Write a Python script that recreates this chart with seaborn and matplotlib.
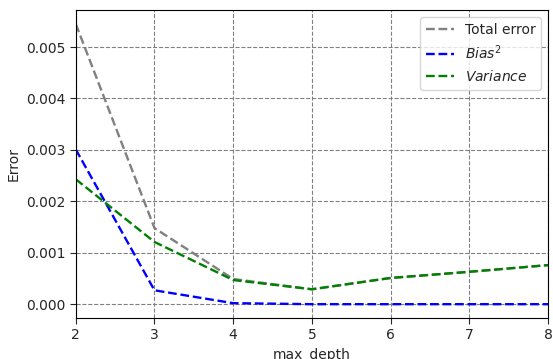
import pandas as pd
import matplotlib
matplotlib.use("Agg")
import matplotlib.pyplot as plt
import seaborn as sns

max_depth = [2, 3, 4, 5, 6, 7, 8]
total_error = [0.00545, 0.00148, 0.00049, 0.00029, 0.00051, 0.00063, 0.00076]
bias_sq = [0.00301, 0.00027, 0.00002, 0.00000, 0.00000, 0.00000, 0.00000]
variance = [0.00243, 0.00121, 0.00047, 0.00029, 0.00051, 0.00063, 0.00076]

series_labels = ["Total error", "$Bias^2$", "$Variance$"]
series_colors = ["gray", "blue", "green"]

df = pd.DataFrame({
    "max_depth": max_depth * 3,
    "Error": total_error + bias_sq + variance,
    "series": [series_labels[0]] * 7 + [series_labels[1]] * 7 + [series_labels[2]] * 7,
})

sns.set_style("white")
plt.rcParams["font.family"] = ["DejaVu Sans"]

fig, ax = plt.subplots(figsize=(5.53, 3.59), dpi=100)
fig.subplots_adjust(left=0.137, right=0.991, top=0.972, bottom=0.114)

sns.lineplot(data=df, x="max_depth", y="Error", hue="series",
             palette=dict(zip(series_labels, series_colors)),
             linewidth=1.7, ax=ax)
for line in ax.lines:
    line.set_linestyle("--")

ax.grid(True, color="gray", linestyle="--", linewidth=0.8)
ax.set_xlim(2, 8)
ax.set_ylim(-0.00027, 0.00572)
ax.set_yticks([0, 0.001, 0.002, 0.003, 0.004, 0.005])
ax.set_yticklabels(["0.000", "0.001", "0.002", "0.003", "0.004", "0.005"])
ax.tick_params(axis="both", which="both", length=4, width=0.8, direction="out",
               bottom=True, left=True, labelsize=10)
for s in ax.spines.values():
    s.set_color("black")
    s.set_linewidth(0.8)
ax.set_xlabel("max_depth", fontsize=10)
ax.set_ylabel("Error", fontsize=10)

leg = ax.legend(loc="upper right", fontsize=10, frameon=True)
for h in leg.get_lines():
    h.set_linestyle("--")
leg.get_frame().set_edgecolor("#cccccc")

fig.savefig("out.png", dpi=100)
